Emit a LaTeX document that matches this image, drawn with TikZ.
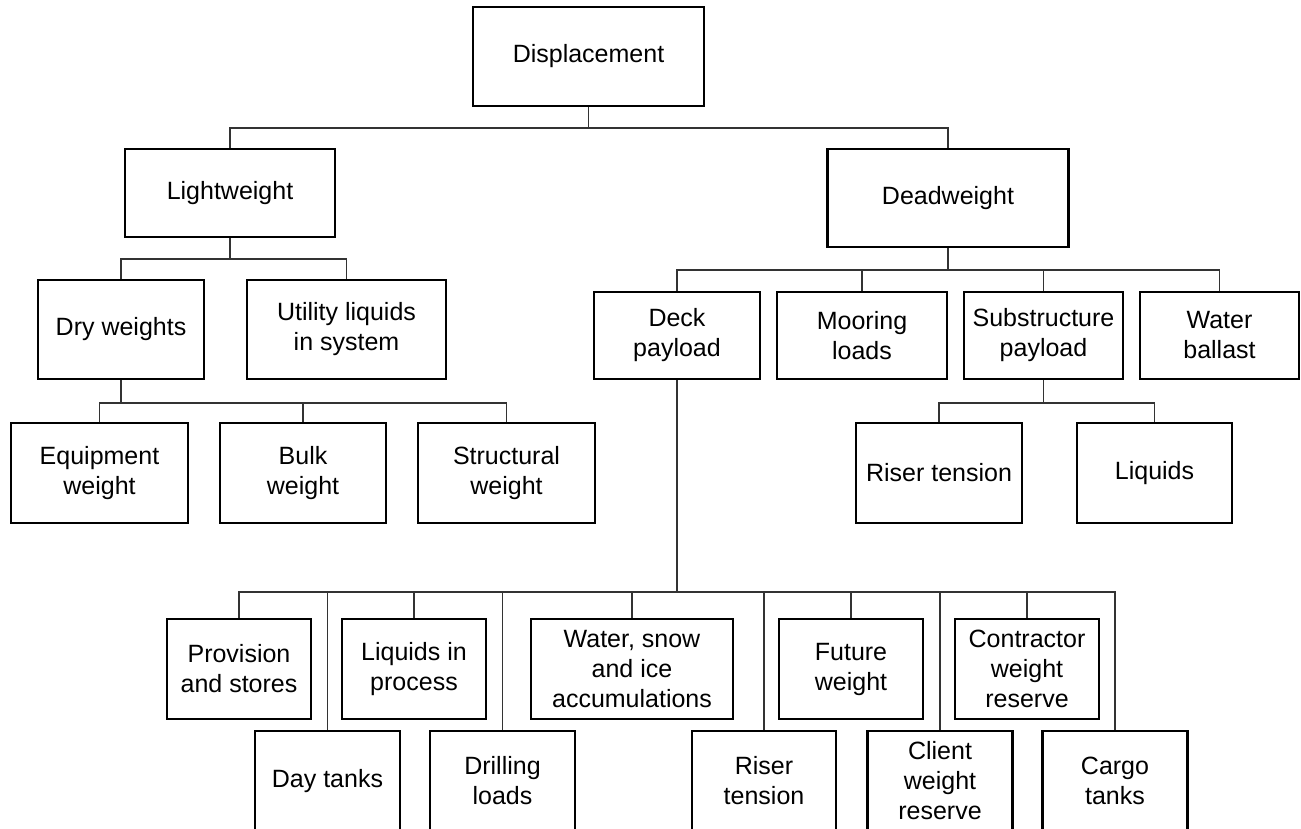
\documentclass[tikz,border=0pt]{standalone}
\usepackage{fontspec}
\setmainfont{Liberation Sans}
\begin{document}
\begin{tikzpicture}[x=1pt,y=-1pt,
  box/.style={draw=black,line width=2.2pt,fill=white,align=center,inner sep=0pt,
    font=\fontsize{25}{30}\selectfont},
  link/.style={draw=black!80,line width=1.3pt}]
\useasboundingbox (0,0) rectangle (1301,829);
\clip (0,0) rectangle (1301,829);
% level 0
\node[box,minimum width=231pt,minimum height=99pt] (disp) at (588.5,56.5) {Displacement};
% level 1
\node[box,minimum width=210pt,minimum height=88pt] (light) at (230,193) {Lightweight};
\node[box,minimum width=241pt,minimum height=98pt] (dead) at (948,198) {Deadweight};
% level 2 left
\node[box,minimum width=166pt,minimum height=99pt] (dry) at (121,329.5) {Dry weights};
\node[box,minimum width=199pt,minimum height=99pt] (util) at (346.5,329.5) {Utility liquids\\in system};
% level 2 right
\node[box,minimum width=166pt,minimum height=87pt] (deck) at (677,335.5) {Deck\\payload};
\node[box,minimum width=170pt,minimum height=87pt] (moor) at (862,335.5) {Mooring\\loads};
\node[box,minimum width=159pt,minimum height=87pt] (sub) at (1043.5,335.5) {Substructure\\payload};
\node[box,minimum width=159pt,minimum height=87pt] (water) at (1219.5,335.5) {Water\\ballast};
% level 3
\node[box,minimum width=177pt,minimum height=100pt] (equip) at (99.5,473) {Equipment\\weight};
\node[box,minimum width=166pt,minimum height=100pt] (bulk) at (303,473) {Bulk\\weight};
\node[box,minimum width=177pt,minimum height=100pt] (struct) at (506.5,473) {Structural\\weight};
\node[box,minimum width=166pt,minimum height=100pt] (riserA) at (939,473) {Riser tension};
\node[box,minimum width=155pt,minimum height=100pt] (liq) at (1154.5,473) {Liquids};
% deck payload children, upper row
\node[box,minimum width=144pt,minimum height=100pt] (prov) at (239,669) {Provision\\and stores};
\node[box,minimum width=144pt,minimum height=100pt] (liqp) at (414,669) {Liquids in\\process};
\node[box,minimum width=202pt,minimum height=100pt] (wsi) at (632,669) {Water, snow\\and ice\\accumulations};
\node[box,minimum width=144pt,minimum height=100pt] (fut) at (851,669) {Future\\weight};
\node[box,minimum width=144pt,minimum height=100pt] (contr) at (1027,669) {Contractor\\weight\\reserve};
% deck payload children, lower row
\node[box,minimum width=145pt,minimum height=100pt] (day) at (327.5,781) {Day tanks};
\node[box,minimum width=145pt,minimum height=100pt] (drill) at (502.5,781) {Drilling\\loads};
\node[box,minimum width=144pt,minimum height=100pt] (riserB) at (764,781) {Riser\\tension};
\node[box,minimum width=145pt,minimum height=100pt] (client) at (940,781) {Client\\weight\\reserve};
\node[box,minimum width=145pt,minimum height=100pt] (cargo) at (1115,781) {Cargo\\tanks};
% connectors
\draw[link] (disp.south) -- ++(0,21) coordinate (b0);
\draw[link] (b0) -| (light.north);
\draw[link] (b0) -| (dead.north);
\draw[link] (light.south) -- ++(0,21) coordinate (b1);
\draw[link] (b1) -| (dry.north);
\draw[link] (b1) -| (util.north);
\draw[link] (dry.south) -- ++(0,23) coordinate (b2);
\draw[link] (b2) -| (equip.north);
\draw[link] (b2) -| (bulk.north);
\draw[link] (b2) -| (struct.north);
\draw[link] (dead.south) -- ++(0,22) coordinate (b3);
\draw[link] (b3) -| (deck.north);
\draw[link] (b3) -| (moor.north);
\draw[link] (b3) -| (sub.north);
\draw[link] (b3) -| (water.north);
\draw[link] (sub.south) -- ++(0,23) coordinate (b4);
\draw[link] (b4) -| (riserA.north);
\draw[link] (b4) -| (liq.north);
\draw[link] (deck.south) -- ++(0,212) coordinate (b5);
\foreach \n in {prov,liqp,wsi,fut,contr,day,drill,riserB,client,cargo}
  \draw[link] (b5) -| (\n.north);
\end{tikzpicture}
\end{document}
